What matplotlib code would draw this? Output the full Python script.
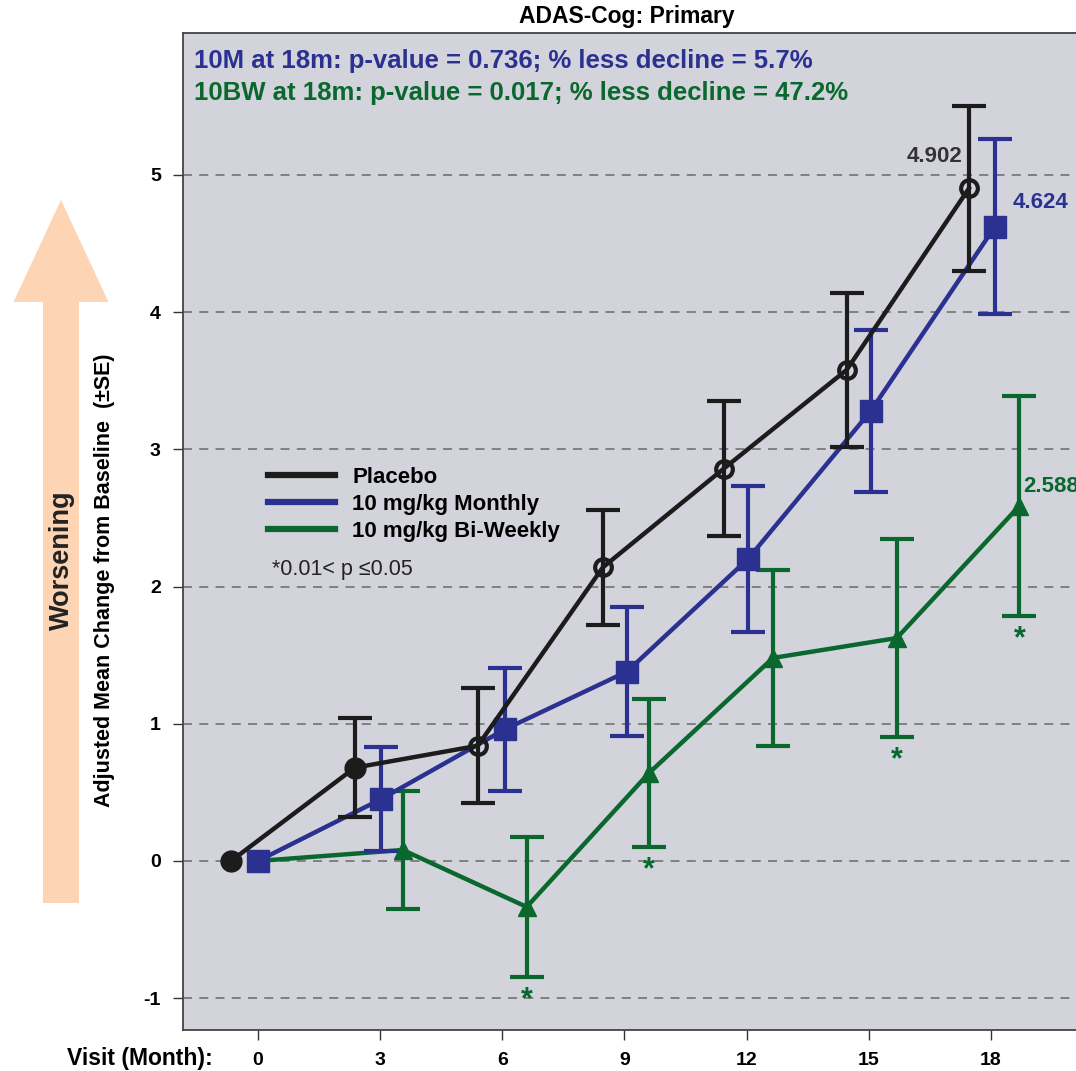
import matplotlib
matplotlib.use("Agg")
from matplotlib import pyplot as plt
from matplotlib.lines import Line2D
from matplotlib.patches import FancyArrow

plt.rcParams["axes.unicode_minus"] = False

# data
visits = [0, 3, 6, 9, 12, 15, 18]
placebo_x = [-0.66, 2.38, 5.40, 8.47, 11.44, 14.46, 17.46]
placebo = [0.0, 0.68, 0.84, 2.14, 2.86, 3.58, 4.902]
placebo_se = [0.0, 0.36, 0.42, 0.42, 0.49, 0.56, 0.60]
monthly_x = [0.0, 3.02, 6.07, 9.06, 12.03, 15.05, 18.10]
monthly = [0.0, 0.45, 0.96, 1.38, 2.20, 3.28, 4.624]
monthly_se = [0.0, 0.38, 0.45, 0.47, 0.53, 0.59, 0.64]
biweekly_x = [0.0, 3.56, 6.60, 9.60, 12.65, 15.69, 18.70]
biweekly = [0.0, 0.08, -0.335, 0.64, 1.48, 1.625, 2.588]
biweekly_se = [0.0, 0.43, 0.51, 0.54, 0.64, 0.72, 0.80]
signif = [False, False, True, True, False, True, True]

BLACK = "#1c1c1c"
BLUE = "#2a3190"
GREEN = "#0a682f"
FONT = ["Liberation Sans", "DejaVu Sans"]

fig = plt.figure(figsize=(10.76, 10.71), dpi=100)
ax = fig.add_axes([183 / 1076, 41 / 1071, 1 - 183 / 1076, 997 / 1071])
ax.set_facecolor("#d3d3dc")
ax.set_xlim(-1.84, 20.09)
ax.set_ylim(-1.232, 6.035)

for v in [-1, 0, 1, 2, 3, 4, 5]:
    ax.axhline(v, color="#7a7a7a", lw=1.3, ls=(0, (5, 4)), zorder=1)

ekw = dict(fmt="none", elinewidth=3.0, capsize=12, capthick=3.0)
ax.errorbar(biweekly_x[1:], biweekly[1:], yerr=biweekly_se[1:], ecolor=GREEN, zorder=2, **ekw)
ax.plot(biweekly_x, biweekly, color=GREEN, lw=3.2, marker="^", ms=13, zorder=2)
ax.errorbar(monthly_x[1:], monthly[1:], yerr=monthly_se[1:], ecolor=BLUE, zorder=3, **ekw)
ax.plot(monthly_x, monthly, color=BLUE, lw=3.2, marker="s", ms=16, zorder=3)
ax.errorbar(placebo_x[1:], placebo[1:], yerr=placebo_se[1:], ecolor=BLACK, zorder=4, **ekw)
ax.plot(placebo_x, placebo, color=BLACK, lw=3.2, zorder=4)
ax.plot(placebo_x[:2], placebo[:2], ls="none", marker="o", ms=15, color=BLACK, zorder=5)
ax.plot(placebo_x[2:], placebo[2:], ls="none", marker="o", ms=12, mfc="none",
        mec=BLACK, mew=3.0, zorder=5)

for x, y, se, s in zip(biweekly_x, biweekly, biweekly_se, signif):
    if s:
        ax.annotate("*", (x, y - se), xytext=(0, -6), textcoords="offset points",
                    ha="center", va="top", fontsize=22, fontweight="bold",
                    color=GREEN, family=FONT, zorder=6)

ax.annotate("%.3f" % placebo[-1], (placebo_x[-1], placebo[-1]), xytext=(-5, 23),
            textcoords="offset points", ha="right", va="center", fontsize=16,
            fontweight="bold", color="#333333", family=FONT)
ax.annotate("%.3f" % monthly[-1], (monthly_x[-1], monthly[-1]), xytext=(13, 17),
            textcoords="offset points", ha="left", va="center", fontsize=16,
            fontweight="bold", color=BLUE, family=FONT)
ax.annotate("%.3f" % biweekly[-1], (biweekly_x[-1], biweekly[-1]), xytext=(3, 14),
            textcoords="offset points", ha="left", va="center", fontsize=16,
            fontweight="bold", color=GREEN, family=FONT)

ax.text(0.0123, 0.9719, "10M at 18m: p-value = 0.736; % less decline = 5.7%",
        transform=ax.transAxes, color=BLUE, fontsize=18.5, fontweight="bold",
        family=FONT, va="center")
ax.text(0.0123, 0.9398, "10BW at 18m: p-value = 0.017; % less decline = 47.2%",
        transform=ax.transAxes, color=GREEN, fontsize=18.5, fontweight="bold",
        family=FONT, va="center")

handles = [Line2D([], [], color=BLACK, lw=4.5), Line2D([], [], color=BLUE, lw=4.5),
           Line2D([], [], color=GREEN, lw=4.5)]
ax.legend(handles, ["Placebo", "10 mg/kg Monthly", "10 mg/kg Bi-Weekly"],
          loc="upper left", bbox_to_anchor=(0.0952, 0.565), frameon=False,
          borderpad=0, borderaxespad=0,
          handlelength=3.0, handletextpad=0.8, labelspacing=0.28,
          prop=dict(family=FONT, weight="bold", size=16))
ax.text(0.0997, 0.4614, "*0.01< p \u22640.05", transform=ax.transAxes, fontsize=15.5,
        family=FONT, color="#222222", va="center")

ax.set_xticks(visits)
ax.set_xticklabels([str(v) for v in visits])
ax.set_yticks([-1, 0, 1, 2, 3, 4, 5])
ax.tick_params(axis="both", direction="out", length=7, width=1, color="#333333",
               labelsize=14, pad=9)
for lab in ax.get_xticklabels() + ax.get_yticklabels():
    lab.set_fontweight("bold")
    lab.set_family(FONT)
ax.spines["right"].set_visible(False)
for s in ["left", "top", "bottom"]:
    ax.spines[s].set_color("#444444")
    ax.spines[s].set_linewidth(1.3)

ax.set_ylabel("Adjusted Mean Change from Baseline  (\u00b1SE)", fontsize=15.5,
              fontweight="bold", family=FONT)
ax.yaxis.set_label_coords(-0.076, 0.451)
fig.text(213 / 1076, 1 - 1058 / 1071, "Visit (Month):", ha="right", va="center",
         fontsize=16.5, fontweight="bold", family=FONT)
fig.text(627 / 1076, 1 - 17 / 1071, "ADAS-Cog: Primary", ha="center", va="center",
         fontsize=16.5, fontweight="bold", family=FONT)

arrow = FancyArrow(61 / 1076, 1 - 903 / 1071, 0, (903 - 200) / 1071, width=36 / 1076,
                   head_width=95 / 1076, head_length=102 / 1071,
                   length_includes_head=True, transform=fig.transFigure,
                   color="#fdd4b4", lw=0, zorder=0)
fig.add_artist(arrow)
fig.text(62 / 1076, 1 - 560 / 1071, "Worsening", rotation=90, ha="center", va="center",
         fontsize=19.5, fontweight="bold", family=FONT, color="#222222")

fig.savefig("out.png", dpi=100)
